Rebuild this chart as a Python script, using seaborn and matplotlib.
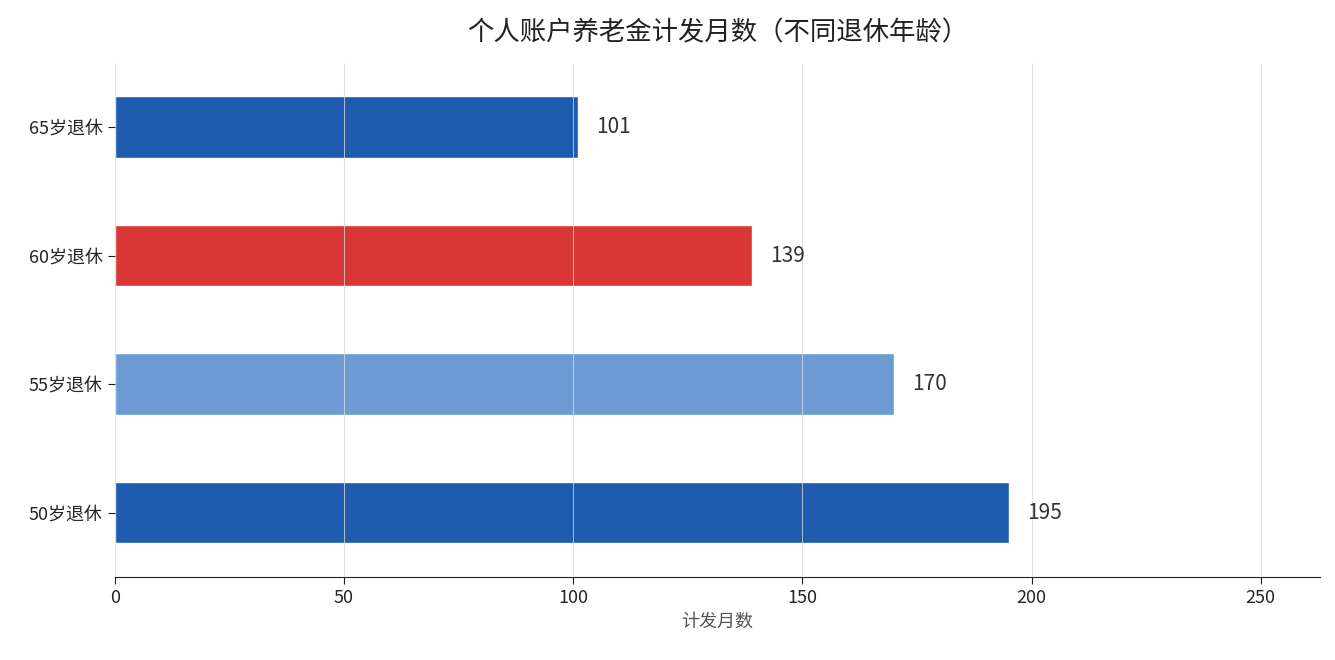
import matplotlib
matplotlib.use("Agg")
import matplotlib.pyplot as plt
import seaborn as sns
import pandas as pd

categories = ['65岁退休', '60岁退休', '55岁退休', '50岁退休']
months = [101, 139, 170, 195]
colors = ['#1f5cb0', '#d93636', '#6b9bd2', '#1f5cb0']

sns.set_style("white")
plt.rcParams['font.family'] = ['Noto Sans CJK SC', 'DejaVu Sans']

df = pd.DataFrame({'cat': categories, 'val': months})

fig, ax = plt.subplots(figsize=(13.35, 6.6), dpi=100)
fig.subplots_adjust(left=0.086, right=0.989, top=0.905, bottom=0.126)

sns.barplot(data=df, x='val', y='cat', hue='cat', order=categories,
            palette=colors, legend=False, width=0.48, ax=ax, saturation=1)

for i, v in enumerate(months):
    ax.text(v + 4, i, str(v), va='center', ha='left', fontsize=15, color='#333333')

ax.set_xlim(0, 263)
ax.set_xticks([0, 50, 100, 150, 200, 250])
ax.set_axisbelow(False)
ax.grid(axis='x', color='#d8d8d8', linewidth=0.7, alpha=0.8)
ax.set_xlabel('计发月数', fontsize=13, color='#555555')
ax.set_ylabel('')
ax.set_title('个人账户养老金计发月数（不同退休年龄）', fontsize=19, color='#222222', pad=16)
ax.tick_params(axis='both', labelsize=13, length=5, left=True, bottom=True, color='#222222')
for s in ['top', 'right', 'left']:
    ax.spines[s].set_visible(False)
ax.spines['bottom'].set_color('#222222')

fig.savefig('out.png', dpi=100)
plt.close(fig)
